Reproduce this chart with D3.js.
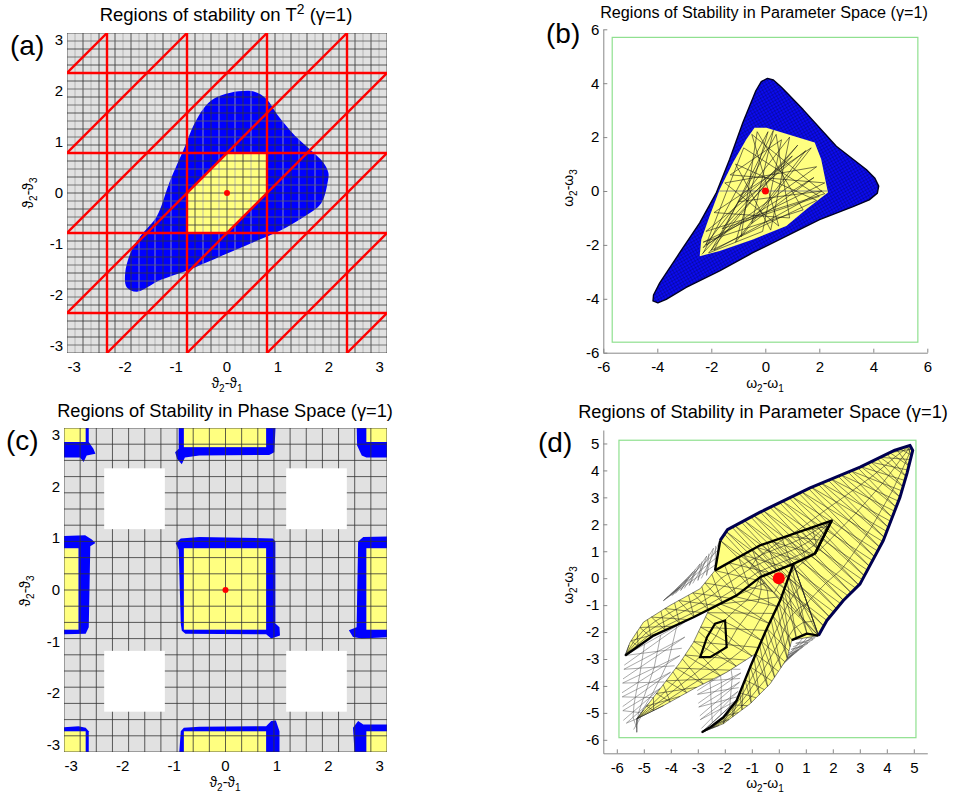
<!DOCTYPE html>
<html>
<head>
<meta charset="utf-8">
<script src="https://cdn.jsdelivr.net/npm/d3@7"></script>
<style>
  body { margin: 0; background: #fff; }
  svg { font-family: Arial, "Liberation Sans", sans-serif; }
</style>
</head>
<body>
<svg id="fig" width="954" height="799"></svg>
<script>
const PI = Math.PI;

// ---------- data: panels (a) and (c), torus T^2 ----------
const torusTicks = [-3, -2, -1, 0, 1, 2, 3];
const redLineSteps = [-3, -1, 1, 3];                 // x = k*pi/4 and y = k*pi/4
const redDiagSteps = [-7, -5, -3, -1, 1, 3, 5, 7];   // y = x + k*pi/4
const stableHexA = [[-PI/4, 0], [0, PI/4], [PI/4, PI/4], [PI/4, 0], [0, -PI/4], [-PI/4, -PI/4]];
const basinA = [
  [-0.26, 1.85], [0.07, 1.97], [0.54, 1.99], [0.77, 1.85], [1.0, 1.52], [1.33, 1.13],
  [1.66, 0.83], [1.89, 0.60], [1.99, 0.40], [1.98, 0.23], [1.85, -0.2], [1.52, -0.46],
  [1.06, -0.73], [0.53, -0.96], [-0.12, -1.24], [-0.78, -1.52], [-1.31, -1.71],
  [-1.77, -1.94], [-1.97, -1.85], [-2.0, -1.58], [-1.90, -1.19], [-1.71, -0.86],
  [-1.38, -0.46], [-1.18, 0.07], [-1.11, 0.26], [-0.82, 0.93], [-0.66, 1.32], [-0.46, 1.66]
];

const yellowCellsC = [   // [x0, x1, y0, y1]
  [-0.81, 0.79, -0.77, 0.81], [-0.81, 0.79, 2.77, PI], [-0.81, 0.79, -PI, -2.74],
  [-PI, -2.86, -0.77, 0.81], [2.74, PI, -0.77, 0.81],
  [-PI, -2.72, 2.87, PI], [2.74, PI, 2.87, PI], [-PI, -2.72, -PI, -2.74], [2.74, PI, -PI, -2.74]
];
const blueCellsC = [
  [[-0.97, 0.91], [-0.87, 1.0], [-0.51, 1.03], [0.92, 1.0], [0.97, 0.94], [0.97, -0.65], [1.05, -0.72],
   [1.06, -0.88], [0.89, -0.94], [0.79, -0.86], [-0.78, -0.85], [-0.85, -0.79], [-0.87, -0.65], [-0.91, 0.78]],
  [[-0.91, 3.3], [-0.91, 2.74], [-0.98, 2.67], [-0.94, 2.54], [-0.85, 2.44], [-0.79, 2.57], [-0.51, 2.61],
   [0.85, 2.62], [0.95, 2.67], [0.98, 3.3]],
  [[-0.91, -3.3], [-0.87, -2.74], [-0.81, -2.67], [-0.51, -2.65], [0.79, -2.64], [0.89, -2.54],
   [0.98, -2.53], [1.05, -2.74], [1.05, -3.3]],
  [[-3.3, 1.04], [-2.73, 1.06], [-2.60, 0.98], [-2.53, 0.91], [-2.63, 0.85], [-2.66, -0.72],
   [-2.72, -0.85], [-3.3, -0.86]],
  [[3.3, 1.04], [2.68, 1.03], [2.58, 0.94], [2.55, -0.72], [2.40, -0.78], [2.48, -0.91], [2.65, -0.94], [3.3, -0.91]],
  [[-3.3, 3.3], [-2.66, 3.3], [-2.66, 2.87], [-2.57, 2.74], [-2.53, 2.64], [-2.70, 2.61], [-2.76, 2.48],
   [-2.83, 2.57], [-3.3, 2.57]],
  [[3.3, 3.3], [2.55, 3.3], [2.56, 2.80], [2.65, 2.61], [2.74, 2.57], [3.3, 2.57]],
  [[-3.3, -2.67], [-2.86, -2.64], [-2.72, -2.67], [-2.66, -2.74], [-2.66, -3.3], [-3.3, -3.3]],
  [[3.3, -2.61], [2.68, -2.61], [2.58, -2.54], [2.48, -2.67], [2.52, -3.3], [3.3, -3.3]]
];
const whiteSquaresC = [[-2.36, -1.18, 1.18, 2.36], [1.18, 2.36, 1.18, 2.36],
                       [-2.36, -1.18, -2.36, -1.18], [1.18, 2.36, -2.36, -1.18]];

// ---------- data: panel (b) ----------
const ticksB = [-6, -4, -2, 0, 2, 4, 6];
const greenBoxB = [-5.67, 5.65, -5.61, 5.70];
const blueRegionB = [
  [-0.35, 3.72], [-0.15, 4.06], [0.08, 4.18], [0.3, 4.12], [0.6, 3.85], [1.40, 3.02], [2.63, 1.66],
  [3.74, 0.80], [4.06, 0.47], [4.2, 0.18], [4.15, -0.08], [3.85, -0.33], [3.25, -0.58], [2.01, -1.06],
  [0.78, -1.67], [-0.46, -2.29], [-1.69, -2.96], [-2.93, -3.58], [-3.67, -4.02], [-3.98, -4.15],
  [-4.16, -4.08], [-4.14, -3.86], [-3.91, -3.41], [-3.17, -2.29], [-2.43, -1.18], [-1.81, -0.06],
  [-1.32, 1.18], [-0.83, 2.54]
];
const yellowRegionB = [
  [-0.40, 2.35], [0.04, 2.35], [1.83, 1.80], [2.07, 1.18], [2.32, -0.06], [1.52, -0.68], [0.78, -1.30],
  [-0.46, -1.80], [-1.69, -2.23], [-2.43, -2.42], [-2.37, -1.80], [-2.06, -0.93], [-1.69, 0.06],
  [-1.2, 1.05], [-0.70, 1.92]
];
const orbitB = [
  [-2.3, -2.3], [0.1, 2.2], [-1.1, -1.9], [1.5, 1.5], [-2.2, -1.5], [2.2, -0.1], [-0.5, 2.1], [0.5, -1.3],
  [-1.5, 0.3], [1.9, 0.9], [-2.3, -2.1], [0.9, 2.0], [0.2, -1.45], [-1.1, 1.0], [1.9, -0.35], [-2.0, -2.2],
  [0.4, 2.1], [0.9, -1.0], [-1.9, -0.8], [1.7, 1.6], [-0.9, -1.7], [-0.3, 2.2], [1.4, -0.7], [-2.3, -1.9],
  [2.2, 0.3], [-1.3, 0.6], [0.6, 1.9], [-0.1, -1.5], [-2.1, -2.3], [1.2, 1.7], [-1.6, -1.4], [2.0, -0.2],
  [-0.8, 1.6], [-2.2, -2.0], [1.8, 0.5], [-0.5, -1.2], [0.3, 2.25], [-1.9, -2.2], [2.1, 0.0], [-1.0, -0.4],
  [1.0, 1.3], [-2.35, -2.35]
];

// ---------- data: panel (d) ----------
const ticksD = [-6, -5, -4, -3, -2, -1, 0, 1, 2, 3, 4, 5];
const greenBoxD = [-5.92, 5.08, -5.92, 5.12];
const wedgeTopD = [[-2.17, 1.40], [-1.9, 1.8], [-0.69, 2.45], [1.16, 3.35], [3.01, 4.12], [4.3, 4.75], [4.86, 4.93]];
const wedgeRightD = [[1.47, -2.13], [1.78, -1.57], [2.39, -0.83], [3.01, -0.21], [3.87, 1.40], [4.49, 3.01],
                     [4.75, 3.9], [4.96, 4.74], [4.86, 4.93]];
const wedgeInnerD = [[0.48, -2.3], [0.05, -0.83], [-0.69, 0.04], [-2.36, 0.29]];
const armUpperD = [[-5.69, -2.87], [-5.51, -2.38], [-5.01, -1.63], [-4.03, -1.01], [-2.91, -0.39],
                   [-2.36, 0.29], [-0.69, 1.22], [1.96, 2.14]];
const armLowerD = [[-5.69, -2.87], [-4.64, -2.13], [-3.16, -1.45], [-1.56, -0.64], [-0.69, 0.04],
                   [0.54, 0.53], [1.34, 0.91], [1.96, 2.14]];
const midLeftD = [[-5.26, -5.22], [-4.40, -4.11], [-3.65, -3.12], [-3.16, -2.38], [-2.6, -1.2], [-1.56, -0.64], [-0.69, 0.04]];
const midRightD = [[-5.26, -5.22], [-4.27, -4.73], [-3.16, -4.11], [-1.93, -3.49], [-0.85, -2.8], [0.05, -0.83], [-0.69, 0.04]];
const lowLeftD = [[-2.85, -5.72], [-2.54, -5.53], [-2.05, -5.16], [-1.56, -4.54], [-1.06, -3.30], [-0.5, -2.0],
                  [0.05, -0.83], [0.54, 0.53]];
const lowRightD = [[-2.85, -5.72], [-2.05, -5.40], [-1.06, -4.66], [-0.32, -3.92], [0.3, -2.99], [0.48, -2.3],
                   [1.04, -2.06], [1.47, -2.13]];
const loopD = [[-2.91, -2.93], [-2.66, -2.19], [-2.36, -1.69], [-1.99, -1.57], [-1.93, -2.56], [-2.54, -2.93]];
const wireLeftD = [[[-5.69, -2.87], [-5.81, -4.17], [-5.76, -5.28], [-5.26, -5.72]],
                   [[-3.3, -1.5], [-3.7, -3.0], [-4.4, -4.11], [-5.26, -5.22]]];
const wireMidD = [[[-3.1, -2.9], [-3.0, -4.5], [-2.85, -5.72]],
                  [[-1.6, -2.5], [-1.4, -3.5], [-1.56, -4.54]]];
const wireRightD = [[[1.47, -2.13], [0.3, -2.99]], [[0.79, -2.19], [-0.2, -3.55]]];
const wireNotchD = [[[-2.17, 1.40], [-3.66, -0.33]], [[-2.36, 0.29], [-4.27, -0.83]]];

// ---------- helpers ----------
const svg = d3.select("#fig");
const defs = svg.append("defs");
const BLUE = "#0000ff", YELLOW = "#ffff80", GREY = "#e1e1e1", RED = "#ff0000";

function addClip(id, x0, y0, x1, y1) {
  defs.append("clipPath").attr("id", id).append("rect")
    .attr("x", x0).attr("y", y0).attr("width", x1 - x0).attr("height", y1 - y0);
}

function title(txt, cx, y, width, sup) {
  const t = svg.append("text").attr("x", cx).attr("y", y).attr("text-anchor", "middle")
    .attr("font-size", 16).attr("fill", "#000");
  if (sup) {
    t.append("tspan").text(txt[0]);
    t.append("tspan").attr("dy", -7).attr("font-size", 11).text(sup);
    t.append("tspan").attr("dy", 7).text(txt[1]);
  } else t.text(txt);
  const k = width / t.node().getComputedTextLength();
  t.attr("font-size", 16 * k);
  if (sup) t.selectAll("tspan").filter((d, i) => i === 1).attr("font-size", 12 * k);
}

function panelTag(txt, x, y) {
  svg.append("text").attr("x", x).attr("y", y).attr("font-size", 28).text(txt);
}

function axisLabel(x, y, sym, a, b, rotate) {
  const t = svg.append("text").attr("text-anchor", "middle").attr("font-size", 14)
    .attr("transform", `translate(${x},${y})` + (rotate ? " rotate(-90)" : ""));
  t.append("tspan").text(sym);
  t.append("tspan").attr("dy", 4).attr("font-size", 10).text(a);
  t.append("tspan").attr("dy", -4).text("-" + sym);
  t.append("tspan").attr("dy", 4).attr("font-size", 10).text(b);
}

function pointAt(poly, t) {
  const seg = [];
  let tot = 0;
  for (let i = 1; i < poly.length; i++) {
    const l = Math.hypot(poly[i][0] - poly[i-1][0], poly[i][1] - poly[i-1][1]);
    seg.push(l); tot += l;
  }
  let d = t * tot;
  for (let i = 0; i < seg.length; i++) {
    if (d <= seg[i] || i === seg.length - 1) {
      const f = seg[i] ? Math.min(1, d / seg[i]) : 0;
      return [poly[i][0] + f * (poly[i+1][0] - poly[i][0]), poly[i][1] + f * (poly[i+1][1] - poly[i][1])];
    }
    d -= seg[i];
  }
  return poly[poly.length - 1];
}

// mesh of a strip between two edges, like a surface wireframe
function meshBand(g, line, A, B, n, color, width) {
  const segs = [];
  for (let i = 0; i <= n; i++) {
    const t = i / n, t2 = Math.min(1, (i + 1.6) / n);
    segs.push([pointAt(A, t), pointAt(B, t)]);
    segs.push([pointAt(A, t), pointAt(B, t2)]);
    segs.push([pointAt(B, t), pointAt(A, Math.min(1, (i + 0.7) / n))]);
  }
  [0.3, 0.55, 0.8].forEach(s => {
    segs.push(d3.range(n + 1).map(i => {
      const a = pointAt(A, i / n), b = pointAt(B, i / n);
      return [a[0] + s * (b[0] - a[0]), a[1] + s * (b[1] - a[1])];
    }));
  });
  g.selectAll(null).data(segs).join("path").attr("d", line)
    .attr("fill", "none").attr("stroke", color).attr("stroke-width", width);
}

// ---------- torus panels (a) and (c) ----------
function torusPanel(box, id) {
  const [x0, y0, x1, y1] = box;
  const x = d3.scaleLinear([-PI, PI], [x0, x1]);
  const y = d3.scaleLinear([-PI, PI], [y1, y0]);
  addClip(id, x0, y0, x1, y1);
  const g = svg.append("g").attr("clip-path", `url(#${id})`);
  g.append("rect").attr("x", x0).attr("y", y0).attr("width", x1 - x0).attr("height", y1 - y0).attr("fill", GREY);
  const line = d3.line().x(d => x(d[0])).y(d => y(d[1]));
  svg.append("g").selectAll("text").data(torusTicks).join("text")
    .attr("x", d => x(d)).attr("y", y1 + 19).attr("text-anchor", "middle").attr("font-size", 15)
    .text(d => String(d));
  svg.append("g").selectAll("text").data(torusTicks).join("text")
    .attr("x", x0 - 4).attr("y", d => y(d) + 5).attr("text-anchor", "end").attr("font-size", 15)
    .text(d => String(d));
  return { g, x, y, line };
}

function torusGrid(p, nx, ny, minorX, minorY) {
  const { g, x, y } = p;
  const vx = d3.range(nx + 1).map(i => -PI + i * 2 * PI / nx);
  const vy = d3.range(ny + 1).map(i => -PI + i * 2 * PI / ny);
  g.append("g").selectAll("line").data(vx).join("line")
    .attr("x1", d => x(d)).attr("x2", d => x(d)).attr("y1", y(-PI)).attr("y2", y(PI))
    .attr("stroke", (d, i) => i % 2 ? minorX : "#333").attr("stroke-width", 0.8);
  g.append("g").selectAll("line").data(vy).join("line")
    .attr("y1", d => y(d)).attr("y2", d => y(d)).attr("x1", x(-PI)).attr("x2", x(PI))
    .attr("stroke", (d, i) => i % 2 ? minorY : "#333").attr("stroke-width", 0.8);
}

// (a)
const pa = torusPanel([67, 33, 387, 353], "clipA");
pa.g.append("path").attr("d", d3.line().x(d => pa.x(d[0])).y(d => pa.y(d[1])).curve(d3.curveCatmullRomClosed)(basinA))
  .attr("fill", BLUE);
pa.g.append("path").attr("d", pa.line(stableHexA) + "Z").attr("fill", YELLOW);
torusGrid(pa, 40, 40, "#a8a8a8", "#5a5a5a");
const redA = pa.g.append("g").attr("stroke", RED).attr("stroke-width", 2.4).attr("fill", "none");
redLineSteps.forEach(k => {
  const v = k * PI / 4;
  redA.append("line").attr("x1", pa.x(v)).attr("x2", pa.x(v)).attr("y1", pa.y(-PI)).attr("y2", pa.y(PI));
  redA.append("line").attr("y1", pa.y(v)).attr("y2", pa.y(v)).attr("x1", pa.x(-PI)).attr("x2", pa.x(PI));
});
redDiagSteps.forEach(k => {
  const c = k * PI / 4;
  const xa = Math.max(-PI, -PI - c), xb = Math.min(PI, PI - c);
  redA.append("line").attr("x1", pa.x(xa)).attr("y1", pa.y(xa + c)).attr("x2", pa.x(xb)).attr("y2", pa.y(xb + c));
});
pa.g.append("circle").attr("cx", pa.x(0)).attr("cy", pa.y(0)).attr("r", 3).attr("fill", RED);
title(["Regions of stability on T", " (\u03b3=1)"], 226, 21, 252, "2");
panelTag("(a)", 10, 55);
axisLabel(227, 388, "\u03d1", "2", "1", false);
axisLabel(33, 193, "\u03d1", "2", "3", true);

// (c)
const pc = torusPanel([64, 428, 387, 752], "clipC");
blueCellsC.forEach(poly => pc.g.append("path").attr("d", pc.line(poly) + "Z").attr("fill", BLUE));
yellowCellsC.forEach(r => pc.g.append("rect").attr("x", pc.x(r[0])).attr("y", pc.y(r[3]))
  .attr("width", pc.x(r[1]) - pc.x(r[0])).attr("height", pc.y(r[2]) - pc.y(r[3])).attr("fill", YELLOW));
torusGrid(pc, 20, 20, "#333", "#333");
whiteSquaresC.forEach(r => pc.g.append("rect").attr("x", pc.x(r[0])).attr("y", pc.y(r[3]))
  .attr("width", pc.x(r[1]) - pc.x(r[0])).attr("height", pc.y(r[2]) - pc.y(r[3])).attr("fill", "#fff"));
pc.g.append("circle").attr("cx", pc.x(0)).attr("cy", pc.y(0)).attr("r", 3).attr("fill", RED);
title("Regions of Stability in Phase Space (\u03b3=1)", 225, 417, 336);
panelTag("(c)", 6, 450);
axisLabel(225, 787, "\u03d1", "2", "1", false);
axisLabel(30, 591, "\u03d1", "2", "3", true);

// ---------- parameter panels (b) and (d) ----------
function paramPanel(box, dom, ticks) {
  const [x0, y0, x1, y1] = box;
  const x = d3.scaleLinear(dom, [x0, x1]);
  const y = d3.scaleLinear(dom, [y1, y0]);
  const ax = svg.append("g").attr("transform", `translate(0,${y1})`)
    .call(d3.axisBottom(x).tickValues(ticks).tickSize(-4).tickSizeOuter(0).tickPadding(9).tickFormat(d => String(d)));
  const ay = svg.append("g").attr("transform", `translate(${x0},0)`)
    .call(d3.axisLeft(y).tickValues(ticks).tickSize(-4).tickSizeOuter(0).tickPadding(4).tickFormat(d => String(d)));
  [ax, ay].forEach(a => {
    a.selectAll("text").attr("font-size", 15).attr("font-family", "Arial, 'Liberation Sans', sans-serif").attr("fill", "#000");
    a.selectAll("path, line").attr("stroke", "#888");
  });
  const g = svg.append("g");
  const line = d3.line().x(d => x(d[0])).y(d => y(d[1]));
  return { g, x, y, line };
}

function greenBox(p, b) {
  p.g.append("rect").attr("x", p.x(b[0])).attr("y", p.y(b[3]))
    .attr("width", p.x(b[1]) - p.x(b[0])).attr("height", p.y(b[2]) - p.y(b[3]))
    .attr("fill", "none").attr("stroke", "#8fe08f").attr("stroke-width", 1.2);
}

// (b)
const pb = paramPanel([603.3, 29.3, 927.3, 352.7], [-6, 6], ticksB);
greenBox(pb, greenBoxB);
const pat = defs.append("pattern").attr("id", "meshB").attr("width", 3).attr("height", 3)
  .attr("patternUnits", "userSpaceOnUse").attr("patternTransform", "rotate(-30)");
pat.append("rect").attr("width", 3).attr("height", 3).attr("fill", "#0b0bf0");
pat.append("path").attr("d", "M0,0H3M0,0V3").attr("stroke", "#000").attr("stroke-width", 0.7).attr("stroke-opacity", 0.55);
pb.g.append("path").attr("d", pb.line(blueRegionB) + "Z")
  .attr("fill", "url(#meshB)").attr("stroke", "#000022").attr("stroke-width", 1.4).attr("stroke-linejoin", "round");
pb.g.append("path").attr("d", pb.line(yellowRegionB) + "Z").attr("fill", YELLOW);
pb.g.append("line").attr("x1", pb.x(-1.7)).attr("x2", pb.x(2.3)).attr("y1", pb.y(0)).attr("y2", pb.y(0))
  .attr("stroke", "#888").attr("stroke-width", 1);
pb.g.append("path").attr("d", pb.line(orbitB)).attr("fill", "none").attr("stroke", "#1a1a1a").attr("stroke-width", 0.6);
pb.g.append("circle").attr("cx", pb.x(0)).attr("cy", pb.y(0)).attr("r", 3.5).attr("fill", RED);
title("Regions of Stability in Parameter Space (\u03b3=1)", 764, 18, 328);
panelTag("(b)", 546, 43);
axisLabel(765, 388, "\u03c9", "2", "1", false);
axisLabel(573, 188, "\u03c9", "2", "3", true);

// (d)
const pd = paramPanel([603.3, 430, 927.3, 753.3], [-6.5, 5.5], ticksD);
greenBox(pd, greenBoxD);
const L = pd.line;
[wireLeftD, wireMidD, wireRightD, wireNotchD].forEach(w => meshBand(pd.g, L, w[0], w[1], 6, "#555", 0.5));
const shapesD = [
  wedgeTopD.concat(wedgeRightD.slice().reverse(), wedgeInnerD),
  armUpperD.concat(armLowerD.slice().reverse()),
  midLeftD.concat(midRightD.slice().reverse()),
  lowLeftD.concat(lowRightD.slice().reverse())
];
shapesD.forEach(s => pd.g.append("path").attr("d", L(s) + "Z").attr("fill", YELLOW)
  .attr("stroke", "#333").attr("stroke-width", 0.6));
meshBand(pd.g, L, wedgeTopD, wedgeRightD, 20, "#222", 0.55);
meshBand(pd.g, L, armUpperD, armLowerD, 16, "#222", 0.55);
meshBand(pd.g, L, midLeftD, midRightD, 12, "#222", 0.55);
meshBand(pd.g, L, lowLeftD, lowRightD, 14, "#222", 0.55);
pd.g.append("path").attr("d", L(wedgeTopD.concat(wedgeRightD.slice().reverse())))
  .attr("fill", "none").attr("stroke", "#000050").attr("stroke-width", 3).attr("stroke-linejoin", "round");
[[wedgeTopD[0], [-2.36, 0.29]], armLowerD, lowLeftD, [[1.47, -2.13], [1.04, -2.06], [0.48, -2.3]],
 [[1.34, 0.91], [1.96, 2.14], [-0.69, 1.22], [-2.36, 0.29]]]
  .forEach(p => pd.g.append("path").attr("d", L(p)).attr("fill", "none").attr("stroke", "#000")
    .attr("stroke-width", 2.4).attr("stroke-linejoin", "round"));
pd.g.append("path").attr("d", L(loopD) + "Z").attr("fill", "none").attr("stroke", "#000").attr("stroke-width", 2.2);
pd.g.append("circle").attr("cx", pd.x(0)).attr("cy", pd.y(0)).attr("r", 6).attr("fill", RED);
title("Regions of Stability in Parameter Space (\u03b3=1)", 763, 418, 370);
panelTag("(d)", 538, 452);
axisLabel(765, 788, "\u03c9", "2", "1", false);
axisLabel(573, 585, "\u03c9", "2", "3", true);
</script>
</body>
</html>
